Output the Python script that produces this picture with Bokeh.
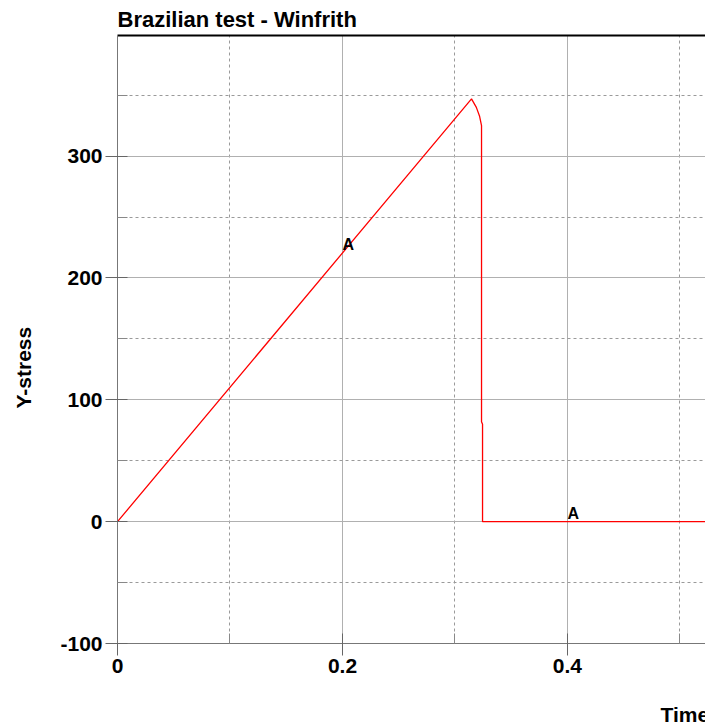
import math
from bokeh.plotting import figure
from bokeh.models import Range1d, LinearAxis, FixedTicker, Title, ColumnDataSource
from bokeh.core.properties import value
from bokeh.embed import file_html
from bokeh.resources import INLINE

# data
time = [0.0, 0.3147, 0.3190, 0.3218, 0.3236, 0.3236, 0.3245, 0.3245, 1.0]
stress = [0.0, 347.0, 340.0, 333.0, 325.0, 82.0, 80.0, 0.0, 0.0]
label_time = [0.2, 0.4]
label_stress = [220.5, 0.0]
label_text = ["A", "A"]
x_major = [0.0, 0.2, 0.4]
x_minor = [0.1, 0.3, 0.5]
y_major = [-100, 0, 100, 200, 300]
y_minor = [-50, 50, 150, 250, 350]

FONT = "Liberation Sans"

p = figure(width=705, height=728, output_backend="svg", toolbar_location=None,
           x_range=Range1d(0, 0.5227), y_range=Range1d(-100, 399),
           min_border_left=117, min_border_right=0, min_border_top=35, min_border_bottom=85,
           background_fill_color="white", border_fill_color="white")
p.outline_line_color = None

p.title.text = "Brazilian test - Winfrith"
p.title.text_font = FONT
p.title.text_font_style = "bold"
p.title.text_font_size = "22px"
p.title.text_color = "black"
p.title.align = "left"
p.title.vertical_align = "top"
p.title.offset = 0
p.title.standoff = 4

for ax, maj, mnr in ((p.xaxis[0], x_major, x_minor), (p.yaxis[0], y_major, y_minor)):
    ax.ticker = FixedTicker(ticks=maj, minor_ticks=mnr)
    ax.major_label_text_font = FONT
    ax.major_label_text_font_style = "bold"
    ax.major_label_text_font_size = "21px"
    ax.major_label_text_color = "black"
    ax.axis_line_color = "#777777"
    ax.axis_line_width = 1
    ax.major_tick_line_color = "#666666"
    ax.major_tick_in = 10
    ax.major_tick_out = 12
    ax.minor_tick_line_color = "#888888"
    ax.minor_tick_in = 10
    ax.minor_tick_out = 0
    ax.major_label_standoff = 3
    # invisible spacer label to push the outer titles outward
    ax.axis_label = " "
    ax.axis_label_text_font_size = "2px"

p.yaxis[0].axis_label_standoff = 16
p.xaxis[0].axis_label_standoff = 22

p.xaxis[0].major_label_overrides = {0.0: "0", 0.2: "0.2", 0.4: "0.4"}
p.yaxis[0].major_label_overrides = {-100: "-100", 0: "0", 100: "100", 200: "200", 300: "300"}

top = LinearAxis(ticker=FixedTicker(ticks=[]), axis_line_color="black", axis_line_width=2,
                 major_tick_line_color=None, minor_tick_line_color=None,
                 major_label_text_font_size="0px")
p.add_layout(top, "above")

for g, maj, mnr in ((p.xgrid[0], x_major, x_minor), (p.ygrid[0], y_major, y_minor)):
    g.ticker = FixedTicker(ticks=maj, minor_ticks=mnr)
    g.grid_line_color = "#b0b0b0"
    g.grid_line_width = 1
    g.minor_grid_line_color = "#9a9a9a"
    g.minor_grid_line_dash = "3 3"
    g.minor_grid_line_width = 1

src = ColumnDataSource(dict(t=time, s=stress))
p.line("t", "s", source=src, line_color="#ff0000", line_width=1.3)

lsrc = ColumnDataSource(dict(t=label_time, s=label_stress, txt=label_text))
p.text("t", "s", text="txt", source=lsrc, text_font=value(FONT), text_font_style="bold",
       text_font_size="16px", text_align="left", text_baseline="bottom", text_color="black")

ylab = Title(text="Y-stress", align="left", offset=235, vertical_align="top", standoff=0,
             text_font=FONT, text_font_style="bold", text_font_size="21px", text_color="black")
p.add_layout(ylab, "left")

xlab = Title(text="Time", align="left", offset=543, vertical_align="top", standoff=0,
             text_font=FONT, text_font_style="bold", text_font_size="21px", text_color="black")
p.add_layout(xlab, "below")

open("out.html", "w").write(file_html(p, INLINE))
